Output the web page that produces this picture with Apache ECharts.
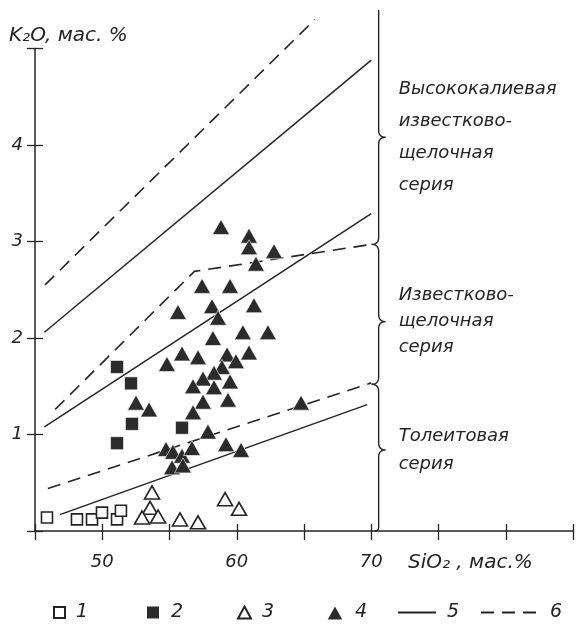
<!DOCTYPE html>
<html>
<head>
<meta charset="utf-8">
<script src="https://cdn.jsdelivr.net/npm/echarts@6/dist/echarts.min.js"></script>
<style>
  html, body { margin: 0; padding: 0; background: #ffffff; }
  #chart { width: 576px; height: 629px; }
</style>
</head>
<body>
<div id="chart"></div>
<script>
// SiO2 vs K2O (wt.%) for volcanic rocks, with series boundary lines.

// Labelled ticks
const xTickLabels = [50, 60, 70];
const yTickLabels = [1, 2, 3, 4];

// 1 — open squares [SiO2, K2O]
const openSquares = [
  [45.89, 0.14], [48.12, 0.12], [49.24, 0.12], [49.98, 0.19], [51.10, 0.12], [51.39, 0.21]
];

// 2 — filled squares
const filledSquares = [
  [51.10, 1.70], [52.14, 1.53], [52.21, 1.11], [51.10, 0.91], [55.93, 1.07]
];

// 3 — open triangles
const openTriangles = [
  [53.70, 0.40], [53.55, 0.24], [52.96, 0.14], [54.15, 0.15],
  [55.78, 0.12], [57.12, 0.09], [59.13, 0.33], [60.17, 0.23]
];

// 4 — filled triangles
const filledTriangles = [
  [58.83, 3.15], [60.91, 3.06], [60.91, 2.94], [62.77, 2.90], [61.43, 2.77],
  [57.42, 2.54], [59.50, 2.54], [55.63, 2.27], [58.16, 2.33], [61.28, 2.34],
  [58.61, 2.21], [60.46, 2.06], [62.32, 2.06], [58.23, 2.00], [54.81, 1.73],
  [55.93, 1.84], [57.12, 1.80], [59.28, 1.83], [60.91, 1.85], [59.94, 1.76],
  [58.90, 1.70], [58.31, 1.64], [57.49, 1.58], [56.75, 1.50], [59.50, 1.55],
  [58.31, 1.49], [57.49, 1.34], [59.35, 1.36], [56.75, 1.23], [52.51, 1.33],
  [53.48, 1.26], [64.78, 1.33], [57.86, 1.03], [59.20, 0.90], [60.32, 0.84],
  [54.74, 0.85], [55.26, 0.82], [55.93, 0.78], [56.67, 0.86], [55.19, 0.66],
  [56.00, 0.68]
];

// 5 — solid boundary lines
const solidLines = [
  [[45.70, 2.06], [70.0, 4.88]],
  [[45.70, 1.08], [70.0, 3.29]],
  [[46.85, 0.17], [69.7, 1.31]]
];

// 6 — dashed boundary lines
const dashedLines = [
  [[45.74, 2.55], [65.8, 5.30]],
  [[46.50, 1.26], [56.85, 2.69], [70.0, 2.97]],
  [[45.96, 0.44], [70.0, 1.535]]
];

// Series fields on the right: K2O extents of each brace, brace tip, captions
const braceEdges = [5.40, 2.97, 1.52, 0.0];
const braceTips = [4.08, 2.17, 0.84];
const braceX = 70.55;
const fieldCaptions = [
  ['Высококалиевая', 'известково-', 'щелочная', 'серия'],
  ['Известково-', 'щелочная', 'серия'],
  ['Толеитовая', 'серия']
];
const fieldLineHeights = [32, 26, 28];

const seriesNames = ['1', '2', '3', '4', '5', '6'];

const INK = '#242424';
const MARK = '#2b2b2b';
const FONT = 'DejaVu Sans';

const chart = echarts.init(document.getElementById('chart'), null, { renderer: 'canvas' });

const textBase = { fontFamily: FONT, fontStyle: 'italic', fontSize: 17, color: INK };

const lineSeries = [];
solidLines.forEach(seg => lineSeries.push({
  name: seriesNames[4], type: 'line', data: seg, symbol: 'none', showSymbol: false,
  itemStyle: { color: INK },
  lineStyle: { color: INK, width: 1.5, type: 'solid' }, z: 2, clip: false, silent: true
}));
dashedLines.forEach(seg => lineSeries.push({
  name: seriesNames[5], type: 'line', data: seg, symbol: 'none', showSymbol: false,
  itemStyle: { color: INK },
  lineStyle: { color: INK, width: 1.6, type: [13, 8] }, z: 2, clip: false, silent: true
}));

const legendSpec = [
  { name: seriesNames[0], left: 53, w: 11, h: 11, line: false },
  { name: seriesNames[1], left: 145, w: 14, h: 14, line: false },
  { name: seriesNames[2], left: 237, w: 13, h: 12, line: false },
  { name: seriesNames[3], left: 325, w: 18, h: 16, line: false },
  { name: seriesNames[4], left: 397, w: 38, h: 12, line: true },
  { name: seriesNames[5], left: 480, w: 58, h: 12, line: true }
];

const option = {
  animation: false,
  backgroundColor: '#ffffff',
  grid: { left: 35, right: 3, top: 48.5, bottom: 98, containLabel: false },
  xAxis: [
    {
      type: 'value', min: 45, max: 85, interval: 5,
      axisLine: { show: true, onZero: false, lineStyle: { color: INK, width: 1.5 } },
      axisTick: { show: true, inside: false, length: 9, lineStyle: { color: INK, width: 1.3 } },
      splitLine: { show: false },
      axisLabel: {
        ...textBase, fontSize: 18, margin: 22, showMinLabel: true, showMaxLabel: true,
        formatter: v => (xTickLabels.includes(v) ? String(v) : '')
      }
    },
    {
      type: 'value', min: 45, max: 85, interval: 5, position: 'bottom', offset: 0,
      axisLine: { show: false },
      axisTick: { show: true, inside: true, length: 7, lineStyle: { color: INK, width: 1.3 } },
      splitLine: { show: false }, axisLabel: { show: false }
    }
  ],
  yAxis: [
    {
      type: 'value', min: 0, max: 5, interval: 1,
      axisLine: { show: true, onZero: false, lineStyle: { color: INK, width: 1.5 } },
      axisTick: { show: true, inside: false, length: 8, lineStyle: { color: INK, width: 1.3 } },
      splitLine: { show: false },
      axisLabel: {
        ...textBase, fontSize: 18, margin: 12,
        formatter: v => (yTickLabels.includes(v) ? String(v) : '')
      }
    },
    {
      type: 'value', min: 0, max: 5, interval: 1, position: 'left', offset: 0,
      axisLine: { show: false },
      axisTick: { show: true, inside: true, length: 8, lineStyle: { color: INK, width: 1.3 } },
      splitLine: { show: false }, axisLabel: { show: false }
    }
  ],
  legend: legendSpec.map(l => {
    const lg = {
      data: [l.name], left: l.left, top: 603, padding: 0,
      itemWidth: l.w, itemHeight: l.h, selectedMode: false,
      textStyle: { ...textBase, fontSize: 19, padding: [0, 0, 0, 6] }
    };
    if (l.line) lg.itemStyle = { color: 'transparent', borderColor: 'transparent', borderWidth: 0 };
    return lg;
  }),
  series: [
    ...lineSeries,
    {
      name: seriesNames[0], type: 'scatter', data: openSquares, symbol: 'rect', symbolSize: 11,
      itemStyle: { color: '#ffffff', borderColor: INK, borderWidth: 1.6, opacity: 1 }, z: 5
    },
    {
      name: seriesNames[1], type: 'scatter', data: filledSquares, symbol: 'rect', symbolSize: 13,
      itemStyle: { color: MARK, borderColor: '#ffffff', borderWidth: 0.6, opacity: 1 }, z: 5
    },
    {
      name: seriesNames[2], type: 'scatter', data: openTriangles, symbol: 'triangle', symbolSize: [15, 13],
      itemStyle: { color: '#ffffff', borderColor: INK, borderWidth: 1.6, opacity: 1 }, z: 5
    },
    {
      name: seriesNames[3], type: 'scatter', data: filledTriangles, symbol: 'triangle', symbolSize: [17, 15],
      itemStyle: { color: MARK, borderColor: '#ffffff', borderWidth: 0.6, opacity: 1 }, z: 5
    }
  ]
};

chart.setOption(option);

// Braces and captions for the series fields, placed through the grid's coordinate system
const toPx = (x, y) => chart.convertToPixel({ gridIndex: 0 }, [x, y]);

// Sample a quadratic Bezier curve into points
function quad(p0, c, p1, n) {
  const pts = [];
  for (let k = 1; k <= n; k++) {
    const t = k / n, u = 1 - t;
    pts.push([u * u * p0[0] + 2 * u * t * c[0] + t * t * p1[0],
              u * u * p0[1] + 2 * u * t * c[1] + t * t * p1[1]]);
  }
  return pts;
}

const graphics = [];
const curl = 7;
for (let i = 0; i < fieldCaptions.length; i++) {
  const [bx, yt] = toPx(braceX, braceEdges[i]);
  const yb = toPx(braceX, braceEdges[i + 1])[1];
  const ym = toPx(braceX, braceTips[i])[1];
  let pts = [];
  if (i === 0) {
    pts.push([bx, yt]);
  } else {
    pts.push([bx - curl, yt]);
    pts = pts.concat(quad([bx - curl, yt], [bx, yt], [bx, yt + curl], 6));
  }
  pts.push([bx, ym - curl]);
  pts = pts.concat(quad([bx, ym - curl], [bx, ym], [bx + curl, ym], 6));
  pts = pts.concat(quad([bx + curl, ym], [bx, ym], [bx, ym + curl], 6));
  if (i === fieldCaptions.length - 1) {
    pts.push([bx, yb - 4]);
    pts = pts.concat(quad([bx, yb - 4], [bx, yb], [bx - 4, yb], 4));
  } else {
    pts.push([bx, yb - curl]);
    pts = pts.concat(quad([bx, yb - curl], [bx, yb], [bx - curl, yb], 6));
  }
  graphics.push({
    type: 'polyline', shape: { points: pts },
    style: { stroke: INK, fill: null, lineWidth: 1.4 }, silent: true
  });
  graphics.push({
    type: 'text', x: bx + 20, y: ym,
    style: {
      text: fieldCaptions[i].join('\n'), fill: INK, font: `italic 18px "${FONT}"`,
      lineHeight: fieldLineHeights[i], verticalAlign: 'middle', align: 'left'
    }, silent: true
  });
}

// Axis titles
graphics.push({
  type: 'text', left: 9, top: 26,
  style: { text: 'K₂O, мас. %', fill: INK, font: `italic 20px "${FONT}"` }, silent: true
});
graphics.push({
  type: 'text', left: 408, top: 553,
  style: { text: 'SiO₂ , мас.%', fill: INK, font: `italic 20px "${FONT}"` }, silent: true
});

chart.setOption({ graphic: graphics });
</script>
</body>
</html>
